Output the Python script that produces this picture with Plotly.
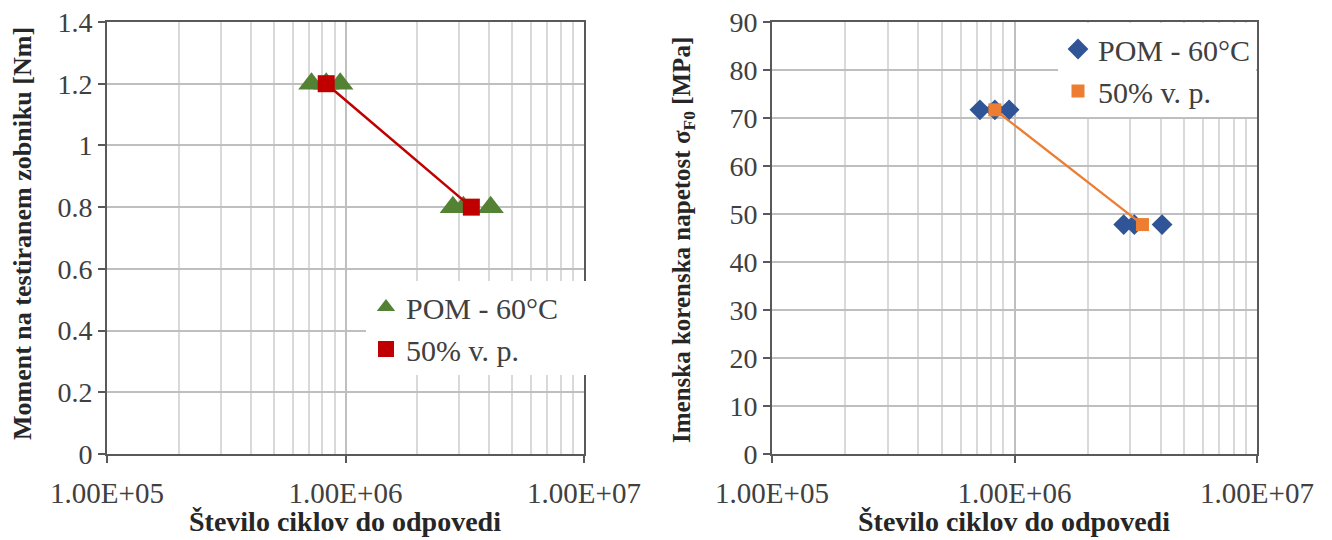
import plotly.graph_objects as go

# ---------------- data ----------------
cycles_pom = [7.2e5, 8.3e5, 9.5e5, 2.82e6, 3.12e6, 4.06e6]
moment_pom = [1.2, 1.2, 1.2, 0.8, 0.8, 0.8]
stress_pom = [71.7, 71.7, 71.7, 47.8, 47.8, 47.8]

cycles_50 = [8.3e5, 3.37e6]
moment_50 = [1.2, 0.8]
stress_50 = [71.7, 47.8]

name_pom = "POM - 60°C"
name_50 = "50% v. p."

x_tickvals = [1e5, 1e6, 1e7]
x_ticktext = ["1.00E+05", "1.00E+06", "1.00E+07"]
x_minor = [m * 10 ** e for e in (5, 6) for m in range(2, 10)]

x_title = "Število ciklov do odpovedi"
y_title_left = "Moment na testiranem zobniku [Nm]"
y_title_right = "Imenska korenska napetost σ<sub>F0</sub> [MPa]"

# ---------------- styling ----------------
OFF = 8                      # the page body adds an 8 px margin
W, H = 1332 - OFF, 540 - OFF
FONT = "Liberation Serif"
GREEN = "#548235"
RED = "#C00000"
BLUE = "#2F5597"
ORANGE = "#ED7D31"
AXIS = "#595959"
GRID = "#BFBFBF"
MINOR = "#D9D9D9"
TXT = "#404040"
PAD = "\u00a0" * 3


def px(x):
    return (x - OFF) / W


def py(y):
    return 1 - (y - OFF) / H


fig = go.Figure()

# left chart
fig.add_trace(go.Scatter(x=cycles_pom, y=moment_pom, mode="markers", name=name_pom + PAD,
                         marker=dict(symbol="triangle-up", size=23, color=GREEN),
                         xaxis="x", yaxis="y", legend="legend", legendgroup="a"))
fig.add_trace(go.Scatter(x=cycles_50, y=moment_50, mode="lines", showlegend=False,
                         line=dict(color=RED, width=2.5), xaxis="x", yaxis="y"))
fig.add_trace(go.Scatter(x=cycles_50, y=moment_50, mode="markers", name=name_50,
                         marker=dict(symbol="square", size=17, color=RED),
                         xaxis="x", yaxis="y", legend="legend", legendgroup="b"))

# right chart
fig.add_trace(go.Scatter(x=cycles_pom, y=stress_pom, mode="markers", name=name_pom,
                         marker=dict(symbol="diamond", size=16, color=BLUE),
                         xaxis="x2", yaxis="y2", legend="legend2", legendgroup="c"))
fig.add_trace(go.Scatter(x=cycles_50, y=stress_50, mode="lines", showlegend=False,
                         line=dict(color=ORANGE, width=2.2), xaxis="x2", yaxis="y2"))
fig.add_trace(go.Scatter(x=cycles_50, y=stress_50, mode="markers", name=name_50,
                         marker=dict(symbol="square", size=13, color=ORANGE),
                         xaxis="x2", yaxis="y2", legend="legend2", legendgroup="d"))

# plot areas in window pixels
L1, R1 = 107, 584
L2, R2 = 772, 1257
TOP, BOT = 22, 454


def xaxis(domain, anchor):
    return dict(type="log", range=[5, 7], domain=domain, anchor=anchor,
                tickmode="array", tickvals=x_tickvals, ticktext=x_ticktext,
                showgrid=True, gridcolor=GRID, gridwidth=1.5,
                minor=dict(tickmode="array", tickvals=x_minor, showgrid=True,
                           gridcolor=MINOR, gridwidth=1.5, ticks=""),
                showline=True, linecolor=AXIS, linewidth=2, mirror=True,
                ticks="outside", ticklen=7, tickwidth=1.5, tickcolor=AXIS,
                tickfont=dict(family=FONT, size=29, color=TXT),
                ticklabelstandoff=5, ticklabeloverflow="allow",
                zeroline=False, automargin=False, fixedrange=True)


def yaxis(rng, dtick, anchor):
    return dict(range=rng, dtick=dtick, tick0=0, domain=[py(BOT), py(TOP)],
                anchor=anchor, showgrid=True, gridcolor=GRID, gridwidth=1.5,
                showline=True, linecolor=AXIS, linewidth=2, mirror=True,
                ticks="outside", ticklen=7, tickwidth=1.5, tickcolor=AXIS,
                tickfont=dict(family=FONT, size=28, color=TXT),
                ticklabeloverflow="allow",
                zeroline=False, automargin=False, fixedrange=True)


def legend(x, y, gap):
    return dict(x=x, y=y, bgcolor="white", borderwidth=0, xanchor="left", yanchor="top",
                font=dict(family=FONT, size=30, color=TXT),
                tracegroupgap=gap, traceorder="grouped", itemclick=False)


title_font = dict(family=FONT, color="#262626")

fig.update_layout(
    width=W, height=H, autosize=False,
    margin=dict(l=0, r=0, t=0, b=0, pad=0),
    paper_bgcolor="white", plot_bgcolor="white",
    xaxis=xaxis([px(L1), px(R1)], "y"),
    yaxis=yaxis([0, 1.4], 0.2, "x"),
    xaxis2=xaxis([px(L2), px(R2)], "y2"),
    yaxis2=yaxis([0, 90], 10, "x2"),
    legend=legend(px(366), py(281), 0),
    legend2=legend(px(1058), py(23), 0),
    annotations=[
        dict(text=f"<b>{y_title_left}</b>", xref="paper", yref="paper",
             x=px(22), y=py(234), textangle=-90, showarrow=False,
             xanchor="center", yanchor="middle", font=dict(size=26, **title_font)),
        dict(text=f"<b>{y_title_right}</b>", xref="paper", yref="paper",
             x=px(683), y=py(240), textangle=-90, showarrow=False,
             xanchor="center", yanchor="middle", font=dict(size=25, **title_font)),
        dict(text=f"<b>{x_title}</b>", xref="paper", yref="paper",
             x=px((L1 + R1) / 2), y=py(521), showarrow=False,
             xanchor="center", yanchor="middle", font=dict(size=28, **title_font)),
        dict(text=f"<b>{x_title}</b>", xref="paper", yref="paper",
             x=px((L2 + R2) / 2), y=py(521), showarrow=False,
             xanchor="center", yanchor="middle", font=dict(size=28, **title_font)),
    ],
)

fig.write_html("out.html")
